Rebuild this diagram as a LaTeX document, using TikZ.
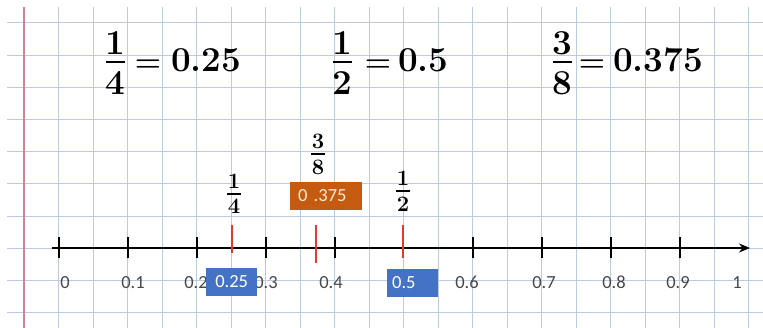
\documentclass[tikz,border=0pt]{standalone}
\usepackage{fontspec}
\newfontfamily\calib{Carlito}
\usetikzlibrary{arrows.meta}
\definecolor{gridc}{RGB}{188,204,222}
\definecolor{marginred}{RGB}{214,128,148}
\definecolor{tickred}{RGB}{228,58,42}
\definecolor{boxblue}{RGB}{68,114,196}
\definecolor{boxorange}{RGB}{197,90,17}
\definecolor{labgray}{RGB}{72,72,72}
\definecolor{creamtext}{RGB}{255,236,214}
\tikzset{
  gridline/.style={draw=gridc, line width=1pt},
  marginline/.style={draw=marginred, line width=2.2pt},
  bignum/.style={font=\fontsize{35}{42}\selectfont\bfseries, inner sep=0pt, anchor=base},
  bigeq/.style={font=\fontsize{30}{36}\selectfont\bfseries, inner sep=0pt, anchor=base},
  bigbar/.style={draw=black, line width=2.6pt},
  smallnum/.style={font=\fontsize{22}{26}\selectfont\bfseries, inner sep=0pt, anchor=base},
  smallbar/.style={draw=black, line width=2pt},
  axisline/.style={draw=black, line width=2.2pt, -{Stealth[length=11pt,width=9pt]}},
  tickline/.style={draw=black, line width=1.8pt},
  redmark/.style={draw=tickred, line width=1.4pt},
  axlab/.style={font=\calib\fontsize{18.5}{22}\selectfont, text=labgray, inner sep=0pt, anchor=base},
  valbox/.style={font=\calib\fontsize{18.5}{22}\selectfont, inner ysep=0pt, minimum height=28pt, anchor=west, align=left}
}
\begin{document}
\begin{tikzpicture}[x=1pt,y=-1pt]
\useasboundingbox (0,0) rectangle (763,328);
\fill[white] (0,0) rectangle (763,328);
% graph paper
\begin{scope}
\clip (7,7) rectangle (763,328);
\foreach \i in {1,...,21} \draw[gridline] ({24+34.52*\i},7) -- ({24+34.52*\i},328);
\foreach \j in {0,...,9} \draw[gridline] (7,{23+32.2*\j}) -- (763,{23+32.2*\j});
\end{scope}
\draw[marginline] (24,7) -- (24,328);

% equations
\node[bignum] (n1) at (115,55) {1};
\node[bignum] (d1) at (115,95) {4};
\draw[bigbar] (106,62) -- (125,62);
\node[bigeq] (e1) at (148,72) {=};
\node[bignum, anchor=base west] (v1) at (171,72) {0.25};

\node[bignum] (n2) at (342,55) {1};
\node[bignum] (d2) at (342,95) {2};
\draw[bigbar] (333,62) -- (352,62);
\node[bigeq] (e2) at (378,72) {=};
\node[bignum, anchor=base west] (v2) at (398,72) {0.5};

\node[bignum] (n3) at (562,55) {3};
\node[bignum] (d3) at (562,95) {8};
\draw[bigbar] (553,62) -- (572,62);
\node[bigeq] (e3) at (592,72) {=};
\node[bignum, anchor=base west] (v3) at (613,72) {0.375};

% number line
\coordinate (axL) at (52,248);
\coordinate (axR) at (750,248);
\draw[axisline] (axL) -- (axR);
\foreach \k in {0,1,2,3,4,6,7,8,9} \draw[tickline] ({59+69*\k},237) -- ({59+69*\k},258);

\node[axlab] (l0) at (65,289) {0};
\node[axlab] (l1) at (133,289) {0.1};
\node[axlab] (l2) at (196,289) {0.2};
\node[axlab] (l3) at (266,289) {0.3};
\node[axlab] (l4) at (331,289) {0.4};
\node[axlab] (l6) at (467,289) {0.6};
\node[axlab] (l7) at (544,289) {0.7};
\node[axlab] (l8) at (614,289) {0.8};
\node[axlab] (l9) at (678,289) {0.9};
\node[axlab] (l10) at (737,289) {1};

% red marks
\draw[redmark] (232,225) -- (232,253);
\draw[redmark] (316,225) -- (316,263);
\draw[redmark] (403,225) -- (403,258);

% small fractions
\node[smallnum] (fn1) at (234,189) {1};
\node[smallnum] (fd1) at (234,214) {4};
\draw[smallbar] (227,194) -- (241,194);
\node[smallnum] (fn3) at (318,149) {3};
\node[smallnum] (fd3) at (318,175) {8};
\draw[smallbar] (311,154) -- (325,154);
\node[smallnum] (fn2) at (403,186) {1};
\node[smallnum] (fd2) at (403,212) {2};
\draw[smallbar] (396,191) -- (410,191);

% value boxes
\node[valbox, fill=boxorange, text=creamtext, inner xsep=8pt, text width=56pt] (o375) at (290,196) {0 .375};
\node[valbox, fill=boxblue, text=white, inner xsep=5pt, text width=41pt, align=center] (b25) at (206,282) {0.25};
\node[valbox, fill=boxblue, text=white, inner xsep=5pt, text width=41pt] (b5) at (387,283) {0.5};
\end{tikzpicture}
\end{document}
